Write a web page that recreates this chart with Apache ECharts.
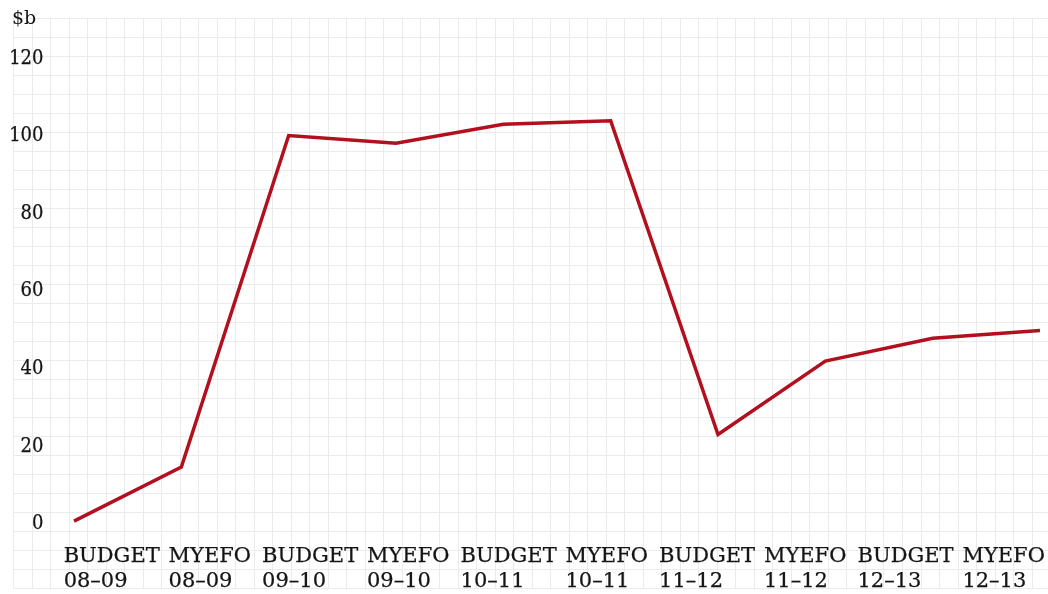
<!DOCTYPE html>
<html>
<head>
<meta charset="utf-8">
<script src="https://cdn.jsdelivr.net/npm/echarts@6/dist/echarts.min.js"></script>
<style>
  html, body { margin: 0; padding: 0; background: #ffffff; }
  #chart { width: 1048px; height: 594px; }
</style>
</head>
<body>
<div id="chart"></div>
<script>
// Forecast rounds and their financial years
const stages = ['BUDGET', 'MYEFO', 'BUDGET', 'MYEFO', 'BUDGET', 'MYEFO', 'BUDGET', 'MYEFO', 'BUDGET', 'MYEFO'];
const years = ['08–09', '08–09', '09–10', '09–10', '10–11', '10–11', '11–12', '11–12', '12–13', '12–13'];
// Values in $ billions
const deficit = [0.8, 14.7, 100.1, 98.1, 103.0, 103.9, 23.1, 42.0, 47.9, 49.9];
// Value axis range and step
const yMin = 0, yMax = 120, yStep = 20;
const unitLabel = '$b';

const categories = stages.map((s, i) => s + '\n' + years[i]);

const W = 1048, H = 594;
const serif = '"DejaVu Serif", serif';
const serifNarrow = '"DejaVu Serif Condensed", "DejaVu Serif", serif';
const ink = '#141414';
const lineRed = '#b20f1f';
const paperLine = '#ebebeb';
// slight stroke to give the serif text a little more weight
const heavy = { textBorderColor: ink, textBorderWidth: 0.25 };

// graph-paper background cells
const cellW = 18.52, cellH = 19;
const paper = { left: 13.3, top: 18.3, bottom: 5.7 };
// plotting area of the series
const plot = { left: 74, right: 8, top: 58.3, bottom: 69.8 };
// category label row
const labelRow = { left: 109.3, right: 45.3 };
const labelWidths = { BUDGET: 91.3, MYEFO: 80 };

const labelStyle = (w) => Object.assign({
  width: w, align: 'left', fontFamily: serif, fontSize: 21,
  lineHeight: 25.3, color: ink
}, heavy);

const chart = echarts.init(document.getElementById('chart'), null, { renderer: 'canvas' });

chart.setOption({
  animation: false,
  backgroundColor: '#ffffff',
  title: {
    text: unitLabel, left: 7, top: 5,
    textStyle: { fontFamily: serif, fontSize: 19, fontWeight: 'normal', color: ink }
  },
  grid: [
    { left: plot.left, right: plot.right, top: plot.top, bottom: plot.bottom },
    { left: labelRow.left, right: labelRow.right, top: plot.top, bottom: plot.bottom },
    { left: paper.left, right: 0, top: paper.top, bottom: paper.bottom }
  ],
  xAxis: [
    {
      gridIndex: 0, type: 'category', boundaryGap: false, data: categories,
      axisLine: { show: false }, axisTick: { show: false },
      axisLabel: { show: false }, splitLine: { show: false }
    },
    {
      gridIndex: 1, type: 'category', boundaryGap: false, data: categories,
      axisLine: { show: false }, axisTick: { show: false }, splitLine: { show: false },
      axisLabel: {
        interval: 0, margin: 19.7, align: 'center',
        formatter: (value, index) => {
          const key = stages[index] === 'BUDGET' ? 'b' : 'm';
          return value.split('\n').map(t => '{' + key + '|' + t + '}').join('\n');
        },
        rich: { b: labelStyle(labelWidths.BUDGET), m: labelStyle(labelWidths.MYEFO) }
      }
    },
    {
      gridIndex: 2, type: 'value', min: 0, max: W - paper.left, interval: cellW,
      axisLine: { show: false }, axisTick: { show: false }, axisLabel: { show: false },
      splitLine: { show: true, lineStyle: { color: paperLine, width: 1 } }
    }
  ],
  yAxis: [
    {
      gridIndex: 0, type: 'value', min: yMin, max: yMax, interval: yStep,
      axisLine: { show: false }, axisTick: { show: false }, splitLine: { show: false },
      axisLabel: Object.assign({ margin: 30.5, fontFamily: serifNarrow, fontSize: 20, color: ink }, heavy)
    },
    { gridIndex: 1, type: 'value', show: false },
    {
      gridIndex: 2, type: 'value', min: 0, max: H - paper.top - paper.bottom, interval: cellH,
      axisLine: { show: false }, axisTick: { show: false }, axisLabel: { show: false },
      splitLine: { show: true, lineStyle: { color: paperLine, width: 1 } }
    }
  ],
  series: [
    {
      type: 'line', xAxisIndex: 0, yAxisIndex: 0, data: deficit,
      symbol: 'none', z: 5,
      lineStyle: { color: lineRed, width: 3.5, join: 'miter' }
    }
  ]
});
</script>
</body>
</html>
